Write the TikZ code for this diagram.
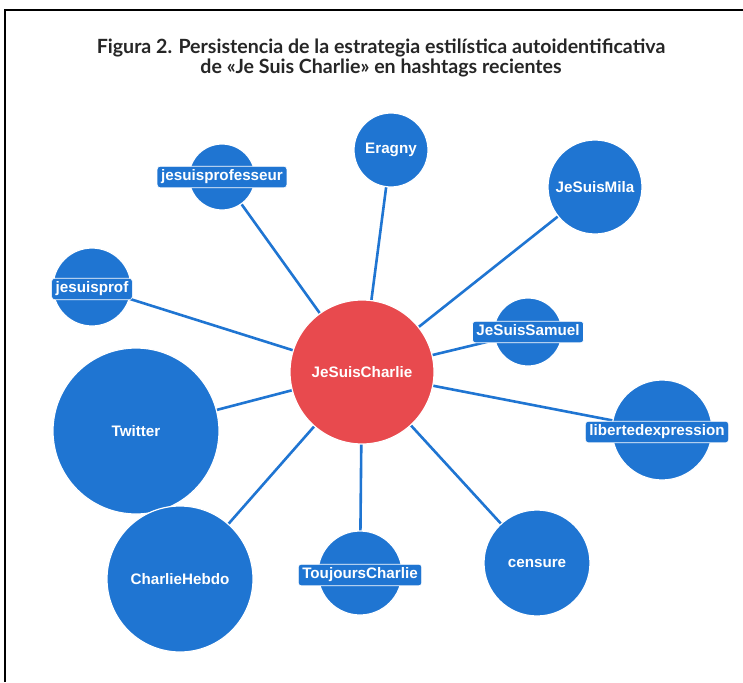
\documentclass[tikz,border=0pt]{standalone}
\usepackage{fontspec}
\setmainfont{Liberation Sans}
\newfontfamily\titlefont{Lato}
\usetikzlibrary{backgrounds}
\definecolor{nodeblue}{RGB}{31,117,210}
\definecolor{nodered}{RGB}{232,74,78}
\tikzset{
  lblfont/.style={font=\fontsize{15.2}{17}\selectfont\bfseries},
  bub/.style={circle, fill=nodeblue, draw=white, line width=1.2pt, inner sep=0pt,
              minimum size=#1, text=white, lblfont},
  tag/.style={rounded corners=3pt, fill=nodeblue, draw=white, line width=0.6pt,
              inner xsep=4pt, inner ysep=3pt, text=white, lblfont,
              text height=11.5pt, text depth=4pt},
  link/.style={draw=nodeblue, line width=2.6pt},
  frameline/.style={draw=black, line width=1.3pt}
}
\begin{document}
\begin{tikzpicture}[x=1pt,y=-1pt]
\useasboundingbox (0,0) rectangle (743,682);

\node[font=\titlefont\bfseries\fontsize{19.6}{20.5}\selectfont, align=center, text=black!85] (title) at (381,58)
  {Figura 2. Persistencia de la estrategia estilística autoidentificativa\\
   de «Je Suis Charlie» en hashtags recientes};

% circles
\node[bub=74pt]  (eragny) at (391,150) {Eragny};
\node[bub=66pt]  (prof2) at (222,177) {};
\node[bub=94pt]  (mila) at (595,187) {JeSuisMila};
\node[bub=78pt]  (prof) at (92,287) {};
\node[bub=68pt]  (samuel) at (528,332) {};
\node[bub=100pt] (liberte) at (662,430) {};
\node[bub=166pt] (twitter) at (136,431) {Twitter};
\node[bub=146pt] (hebdo) at (180,579) {CharlieHebdo};
\node[bub=84pt]  (toujours) at (360,573) {};
\node[bub=106pt] (censure) at (537,563) {censure};
\node[bub=144pt, fill=nodered] (charlie) at (362,372) {JeSuisCharlie};

% background, frame and connectors
\begin{scope}[on background layer]
\fill[white] (0,0) rectangle (743,682);
\draw[frameline] (5,682) -- (5,10) -- (743,10);
\foreach \n in {eragny,prof2,mila,prof,samuel,liberte,twitter,hebdo,toujours,censure}
  \draw[link] (charlie.center) -- (\n.center);
\end{scope}

% boxed labels
\node[tag] (lprof2) at (222,177) {jesuisprofesseur};
\node[tag] (lprof) at (92,289) {jesuisprof};
\node[tag] (lsamuel) at (528,332) {JeSuisSamuel};
\node[tag] (lliberte) at (657,432) {libertedexpression};
\node[tag] (ltoujours) at (360,575) {ToujoursCharlie};
\end{tikzpicture}
\end{document}
